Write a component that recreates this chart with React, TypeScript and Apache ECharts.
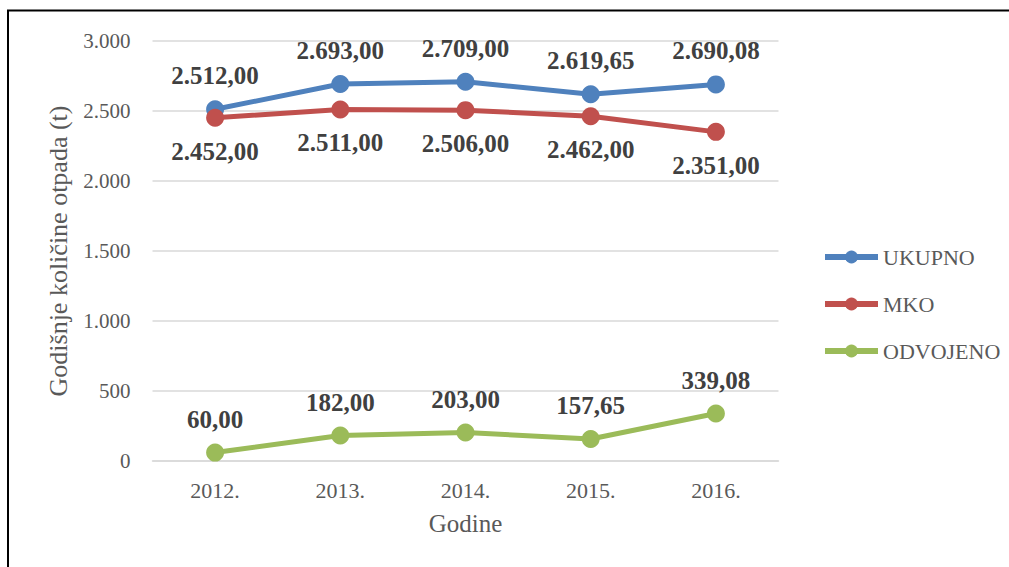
import React, { useEffect, useRef } from "react";
import * as echarts from "echarts";

const categories = ["2012.", "2013.", "2014.", "2015.", "2016."];
const ukupno = [2512, 2693, 2709, 2619.65, 2690.08];
const mko = [2452, 2511, 2506, 2462, 2351];
const odvojeno = [60, 182, 203, 157.65, 339.08];
const seriesNames = ["UKUPNO", "MKO", "ODVOJENO"];

const FONT = "Liberation Serif";

function fmtNum(v: number, dec: number): string {
  const fixed = v.toFixed(dec);
  const [intPart, decPart] = fixed.split(".");
  const withDots = intPart.replace(/\B(?=(\d{3})+(?!\d))/g, ".");
  return decPart !== undefined ? withDots + "," + decPart : withDots;
}

export default function App() {
  const ref = useRef<HTMLDivElement>(null);
  useEffect(() => {
    if (!ref.current) return;
    const chart = echarts.init(ref.current, undefined, { renderer: "svg" });
    const label = (pos: string) => ({
      show: true,
      position: pos,
      distance: 12,
      fontFamily: FONT,
      fontSize: 25,
      fontWeight: "bold",
      color: "#404040",
      formatter: (p: any) => fmtNum(p.value, 2),
    });
    const mk = (name: string, data: number[], color: string, pos: string) => ({
      name,
      type: "line",
      data,
      symbol: "circle",
      symbolSize: 18,
      lineStyle: { color, width: 5 },
      itemStyle: { color },
      label: label(pos),
      emphasis: { disabled: true },
    });
    chart.setOption({
      animation: false,
      textStyle: { fontFamily: FONT },
      graphic: [
        {
          type: "rect",
          shape: { x: 8, y: 10.5, width: 1100, height: 700 },
          style: { fill: "none", stroke: "#000", lineWidth: 2 },
          silent: true,
        },
      ],
      grid: { left: 152.5, right: 230.5, top: 41, bottom: 106 },
      legend: {
        orient: "vertical",
        left: 817,
        top: 241,
        itemWidth: 53,
        itemHeight: 16,
        itemGap: 25,
        itemStyle: { borderWidth: 0 },
        lineStyle: { width: 6 },
        textStyle: { fontFamily: FONT, fontSize: 22, color: "#595959" },
        data: seriesNames,
      },
      xAxis: {
        type: "category",
        data: categories,
        boundaryGap: true,
        axisLine: { lineStyle: { color: "#d9d9d9", width: 1.5 } },
        axisTick: { show: false },
        axisLabel: { fontFamily: FONT, fontSize: 22, color: "#595959", margin: 18 },
        name: "Godine",
        nameLocation: "middle",
        nameGap: 50,
        nameTextStyle: { fontFamily: FONT, fontSize: 25, color: "#595959" },
      },
      yAxis: {
        type: "value",
        min: 0,
        max: 3000,
        interval: 500,
        axisLine: { show: false },
        axisTick: { show: false },
        splitLine: { lineStyle: { color: "#d9d9d9", width: 1.5 } },
        axisLabel: {
          fontFamily: FONT,
          fontSize: 21,
          color: "#595959",
          margin: 22,
          formatter: (v: number) => fmtNum(v, 0),
        },
        name: "Godišnje količine otpada (t)",
        nameLocation: "middle",
        nameGap: 81,
        nameRotate: 90,
        nameTextStyle: { fontFamily: FONT, fontSize: 26, color: "#595959" },
      },
      series: [
        mk(seriesNames[0], ukupno, "#4F81BD", "top"),
        mk(seriesNames[1], mko, "#C0504D", "bottom"),
        mk(seriesNames[2], odvojeno, "#9BBB59", "top"),
      ],
    });
    return () => chart.dispose();
  }, []);
  return (
    <div
      ref={ref}
      style={{ position: "fixed", left: 0, top: 0, width: 1009, height: 567, background: "#fff" }}
    />
  );
}
